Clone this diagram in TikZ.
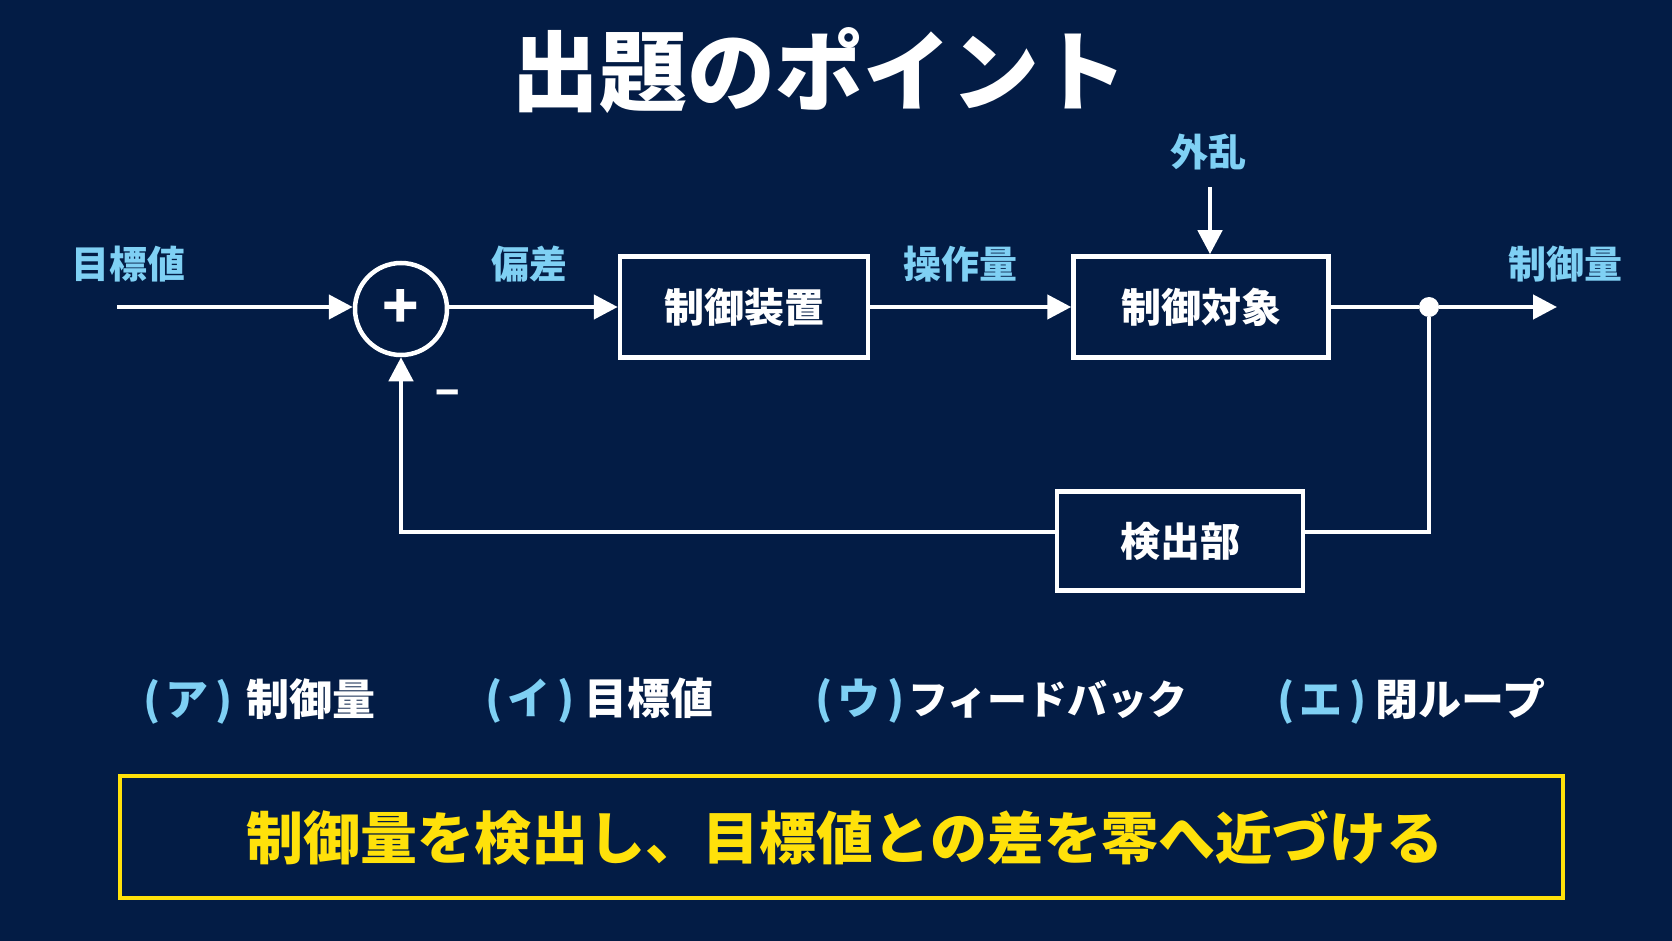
\documentclass[tikz,border=0pt]{standalone}
\usepackage{fontspec}
\setmainfont{Noto Sans CJK JP}
\usetikzlibrary{arrows.meta,positioning,calc}
\definecolor{bgnavy}{HTML}{031C45}
\definecolor{skyblue}{HTML}{7FD0F4}
\definecolor{signyellow}{HTML}{FFE10A}
\newcommand{\fsz}[1]{\fontsize{#1pt}{#1pt}\selectfont}
\newcommand{\optmark}[2][14pt]{\textcolor{skyblue}{(\hspace{5pt}#2\hspace{7pt})}\hspace{#1}}

\begin{document}
\begin{tikzpicture}[x=1pt,y=-1pt,
  sig/.style={line width=4.5pt,white,-{Triangle[length=24pt,width=24pt]}},
  wire/.style={line width=4.5pt,white},
  blockbox/.style={draw=white,line width=4.5pt,minimum height=101pt,text=white,font=\fsz{40}\bfseries},
  lbl/.style={text=skyblue,font=\fsz{38}\bfseries},
  choice/.style={text=white,font=\fsz{43}\bfseries,anchor=west,inner sep=0pt}]
\fill[bgnavy] (0,0) rectangle (1672,941);
\node[white,font=\fsz{88}\bfseries] (title) at (819,71) {出題のポイント};
% signal blocks
\node[circle,draw=white,line width=4.5pt,minimum size=92pt,inner sep=0pt,text=white,font=\fsz{60}\bfseries] (sum) at (401,309) {+};
\node[blockbox,minimum width=248pt] (ctrl) at (744,307) {制御装置};
\node[blockbox,minimum width=255pt] (plant) at (1201,307) {制御対象};
\node[blockbox,minimum width=246pt,minimum height=99pt] (sensor) at (1180,541) {検出部};
\node[circle,fill=white,inner sep=0pt,minimum size=20pt] (branch) at (1429,307) {};
\coordinate (in) at (117,307);
\coordinate (out) at (1557,307);
\coordinate (dist) at (1210,187);
% labels
\node[lbl] (reflbl) at (128,264) {目標値};
\node[lbl] (errlbl) at (529,264) {偏差};
\node[lbl] (mvlbl) at (960,264) {操作量};
\node[lbl] (outlbl) at (1565,264) {制御量};
\node[lbl] (distlbl) at (1208,152) {外乱};
\node[white,font=\fsz{40}\bfseries] (minus) at (448,399) {−};
% connectors
\draw[sig] (in) -- (sum.west |- in);
\draw[sig] (sum.east |- in) -- (ctrl.west);
\draw[sig] (ctrl.east) -- (plant.west);
\draw[wire] (plant.east) -- (branch);
\draw[sig] (branch) -- (out);
\draw[sig] (dist) -- (dist |- plant.north);
\draw[wire] (branch) |- ($(sensor.east)+(0,-9)$);
\draw[sig] ($(sensor.west)+(0,-9)$) -| (sum.south);
% choices
\node[choice] (optA) at (143,701) {\optmark{ア}制御量};
\node[choice] (optB) at (485,701) {\optmark[10pt]{イ}目標値};
\node[choice] (optC) at (815,701) {\optmark[4pt]{ウ}{\fsz{40}フィードバック}};
\node[choice] (optD) at (1277,701) {\optmark[9pt]{エ}閉ループ};
% summary
\node[draw=signyellow,line width=4pt,minimum width=1443pt,minimum height=122pt] (summary) at (841,837) {};
\node[text=signyellow,font=\fsz{57}\bfseries] (summarytxt) at (845,838) {制御量を検出し、目標値との差を零へ近づける};
\end{tikzpicture}
\end{document}
